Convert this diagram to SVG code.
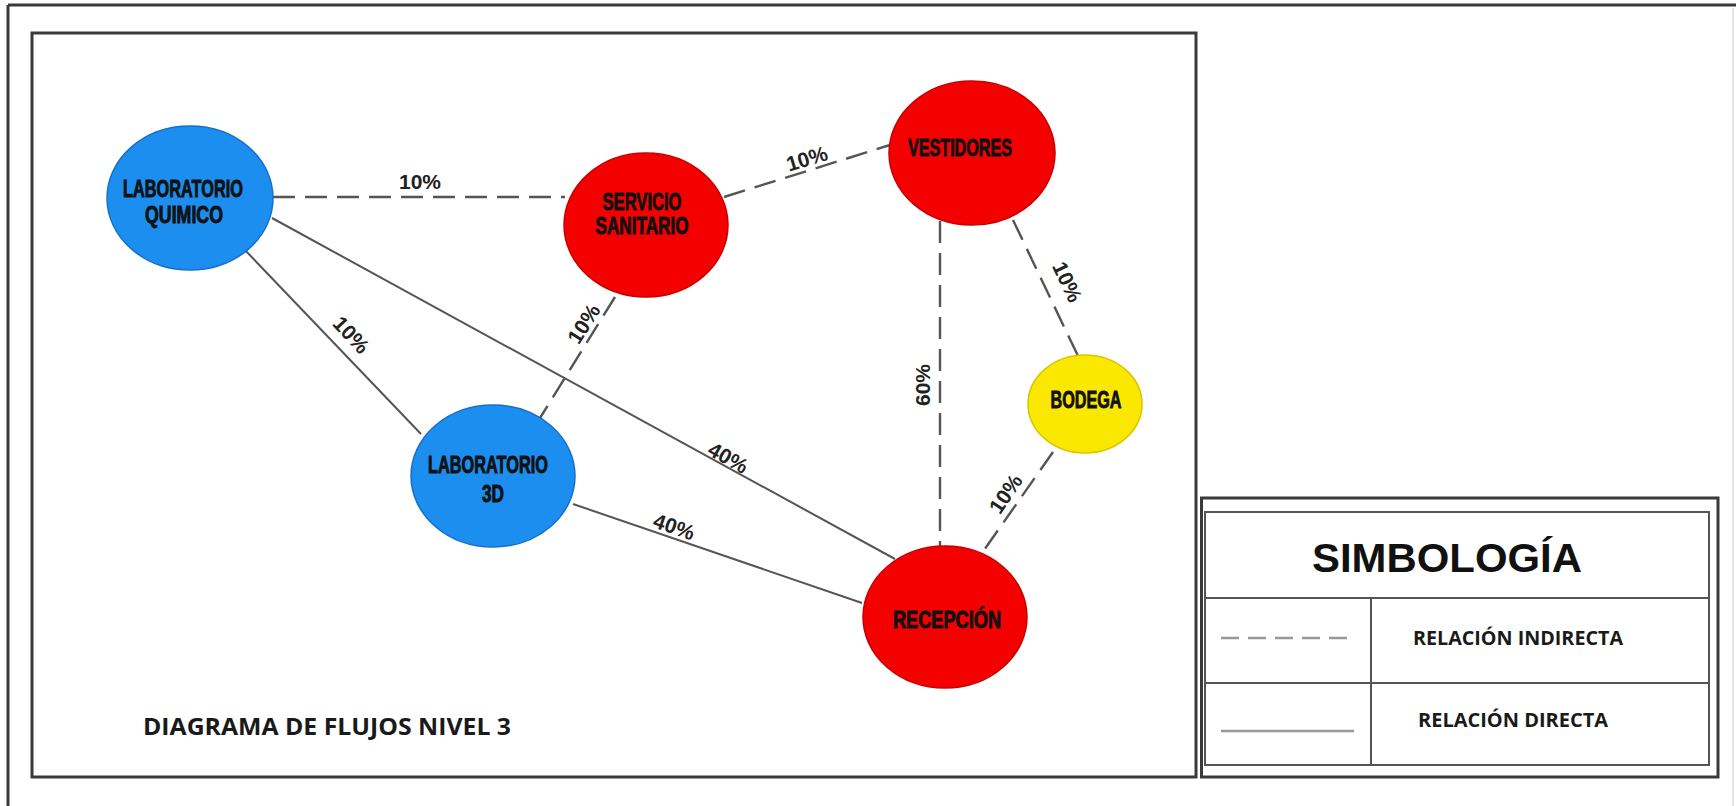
<svg xmlns="http://www.w3.org/2000/svg" width="1736" height="806" viewBox="0 0 1736 806">
<style>
.frame{fill:none;stroke:#3a3a3a;stroke-width:3}
.thin{fill:none;stroke:#555;stroke-width:2}
.blue{fill:#1b8ef0;stroke:#1670c8;stroke-width:1.5}
.red{fill:#f40000;stroke:#c80000;stroke-width:1.5}
.yellow{fill:#fbe800;stroke:#d8c600;stroke-width:1.5}
.nl{font-family:"Liberation Sans",Arial,sans-serif;font-weight:bold;font-size:23px;fill:#111;stroke:#111;stroke-width:0.9;text-anchor:middle}
.solid{fill:none;stroke:#555;stroke-width:2}
.dash{fill:none;stroke:#555;stroke-width:2.4;stroke-dasharray:22 10}
.pct{font-family:"Liberation Sans",Arial,sans-serif;font-weight:bold;font-size:21px;fill:#222;text-anchor:middle}
.leg{font-family:"Open Sans","Liberation Sans",sans-serif;font-weight:bold;fill:#1a1a1a}
</style>
<rect width="1736" height="806" fill="#fff"/>
<g id="frame">
<line x1="8" y1="5" x2="1736" y2="5" class="frame"/>
<line x1="8" y1="5" x2="8" y2="806" class="frame"/>
<line x1="1733" y1="8" x2="1733" y2="806" stroke="#ddd" stroke-width="1.5"/>
<rect x="32" y="33" width="1164" height="744" class="frame"/>
</g>
<g id="connectors">
<line x1="273" y1="197" x2="565" y2="197" class="dash"/>
<line x1="724" y1="197" x2="890" y2="145" class="dash"/>
<line x1="940" y1="221" x2="940" y2="547" class="dash"/>
<line x1="1013" y1="220" x2="1078" y2="356" class="dash"/>
<line x1="1053" y1="452" x2="982" y2="553" class="dash"/>
<line x1="615" y1="297" x2="540" y2="418" class="dash"/>
<line x1="244" y1="249" x2="421" y2="434" class="solid"/>
<line x1="272" y1="218" x2="895" y2="559" class="solid"/>
<line x1="573" y1="504" x2="862" y2="603" class="solid"/>
<text class="pct" x="420" y="189">10%</text>
<text class="pct" transform="translate(807,159) rotate(-17)" y="7">10%</text>
<text class="pct" transform="translate(923,385) rotate(-90)" y="7">60%</text>
<text class="pct" transform="translate(1067,282) rotate(65)" y="7">10%</text>
<text class="pct" transform="translate(1006,494) rotate(-56)" y="7">10%</text>
<text class="pct" transform="translate(351,335) rotate(47)" y="7">10%</text>
<text class="pct" transform="translate(584,324) rotate(-58)" y="7">10%</text>
<text class="pct" transform="translate(728,458) rotate(29)" y="7">40%</text>
<text class="pct" transform="translate(674,527) rotate(19)" y="7">40%</text>
</g>
<g id="lab-quimico">
<ellipse cx="190" cy="198" rx="83" ry="72" class="blue"/>
<text class="nl" x="183" y="197" textLength="120" lengthAdjust="spacingAndGlyphs">LABORATORIO</text>
<text class="nl" x="184" y="223" textLength="78" lengthAdjust="spacingAndGlyphs">QUIMICO</text>
</g>
<g id="servicio-sanitario">
<ellipse cx="646" cy="225" rx="82" ry="72" class="red"/>
<text class="nl" x="642" y="210" textLength="79" lengthAdjust="spacingAndGlyphs">SERVICIO</text>
<text class="nl" x="642" y="234" textLength="93" lengthAdjust="spacingAndGlyphs">SANITARIO</text>
</g>
<g id="vestidores">
<ellipse cx="972" cy="153" rx="83" ry="72" class="red"/>
<text class="nl" x="960" y="156" textLength="104" lengthAdjust="spacingAndGlyphs">VESTIDORES</text>
</g>
<g id="lab-3d">
<ellipse cx="493" cy="476" rx="82" ry="71" class="blue"/>
<text class="nl" x="488" y="473" textLength="120" lengthAdjust="spacingAndGlyphs">LABORATORIO</text>
<text class="nl" x="493" y="502" textLength="22" lengthAdjust="spacingAndGlyphs">3D</text>
</g>
<g id="bodega">
<ellipse cx="1085" cy="404" rx="57" ry="49" class="yellow"/>
<text class="nl" x="1086" y="408" textLength="71" lengthAdjust="spacingAndGlyphs">BODEGA</text>
</g>
<g id="recepcion">
<ellipse cx="945" cy="617" rx="82" ry="71" class="red"/>
<text class="nl" x="947" y="628" textLength="108" lengthAdjust="spacingAndGlyphs">RECEPCIÓN</text>
</g>
<g id="title">
<text class="leg" x="143" y="735" font-size="24" textLength="368" lengthAdjust="spacingAndGlyphs">DIAGRAMA DE FLUJOS NIVEL 3</text>
</g>
<g id="legend">
<rect x="1201.5" y="498" width="516.5" height="279" class="frame"/>
<rect x="1205" y="512" width="504" height="253" class="thin"/>
<line x1="1205" y1="598" x2="1709" y2="598" class="thin"/>
<line x1="1205" y1="683" x2="1709" y2="683" class="thin"/>
<line x1="1371" y1="598" x2="1371" y2="765" class="thin"/>
<text x="1447" y="572" font-family="Liberation Sans,Arial,sans-serif" font-weight="bold" font-size="41" fill="#111" text-anchor="middle" textLength="270" lengthAdjust="spacingAndGlyphs">SIMBOLOGÍA</text>
<line x1="1221" y1="638" x2="1354" y2="638" stroke="#999" stroke-width="2.5" stroke-dasharray="18 9"/>
<line x1="1221" y1="731" x2="1354" y2="731" stroke="#999" stroke-width="2.5"/>
<text class="leg" x="1413" y="645" font-size="20" textLength="210" lengthAdjust="spacingAndGlyphs">RELACIÓN INDIRECTA</text>
<text class="leg" x="1418" y="727" font-size="20" textLength="190" lengthAdjust="spacingAndGlyphs">RELACIÓN DIRECTA</text>
</g>
</svg>
